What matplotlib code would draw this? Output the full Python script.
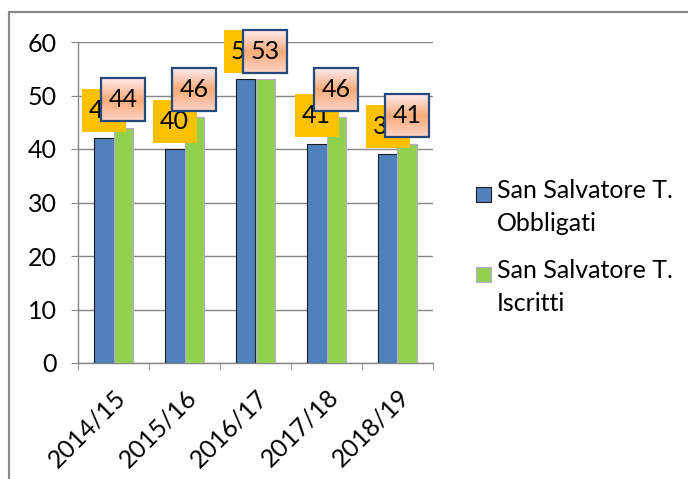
import matplotlib
matplotlib.use("Agg")
import matplotlib.pyplot as plt
import numpy as np
from matplotlib.colors import LinearSegmentedColormap
from matplotlib.patches import Rectangle

plt.rcParams['font.family'] = ['Lato', 'DejaVu Sans']

# Data
years = ["2014/15", "2015/16", "2016/17", "2017/18", "2018/19"]
obbligati = [42, 40, 53, 41, 39]
iscritti = [44, 46, 53, 46, 41]
series_names = ["San Salvatore T.\nObbligati", "San Salvatore T.\nIscritti"]

BLUE = "#4f81bd"
GREEN = "#92d050"
GRID = "#868686"
W, H = 688, 479
BOX_W, BOX_H = 44, 43  # label box size in pixels

fig = plt.figure(figsize=(W / 100, H / 100), dpi=100)
ax = fig.add_axes([78 / W, 1 - 363 / H, (433 - 78) / W, (363 - 42) / H])

x = np.arange(len(years))
bw = 0.28
b1 = ax.bar(x - bw / 2, obbligati, bw, color=BLUE, edgecolor="#1c1c1c", linewidth=0.8, zorder=3)
b2 = ax.bar(x + bw / 2, iscritti, bw, color=GREEN, edgecolor="#b7a9d3", linewidth=0.8, zorder=3)

ax.set_xlim(-0.5, len(years) - 0.5)
ax.set_ylim(0, 60)
ax.set_yticks(range(0, 61, 10))
ax.yaxis.grid(True, color=GRID, linewidth=1.0, zorder=0)
ax.set_axisbelow(True)
for s in ["top", "right"]:
    ax.spines[s].set_visible(False)
for s in ["left", "bottom"]:
    ax.spines[s].set_color(GRID)
    ax.spines[s].set_linewidth(1.0)

ax.tick_params(axis="y", length=5, color=GRID, labelsize=18, pad=10)
ax.set_xticks(x)
ax.set_xticks(np.arange(len(years) + 1) - 0.5, minor=True)
ax.tick_params(axis="x", which="major", length=0, pad=16, labelsize=18)
ax.tick_params(axis="x", which="minor", length=5, color=GRID)
ax.set_xticklabels(years, rotation=45, ha="right", va="top", rotation_mode="anchor")

# data labels (boxes added after a first draw)
blue_texts = []
for rect, v in zip(b1, obbligati):
    t = ax.annotate(str(v), (rect.get_x() + rect.get_width() / 2, v), xytext=(0, 20),
                    textcoords="offset points", ha="center", va="center", fontsize=18, zorder=5)
    blue_texts.append(t)

green_texts = []
for rect, v in zip(b2, iscritti):
    t = ax.annotate(str(v), (rect.get_x() + rect.get_width() / 2, v), xytext=(0, 20),
                    textcoords="offset points", ha="center", va="center", fontsize=18, zorder=8)
    green_texts.append(t)

cmap = LinearSegmentedColormap.from_list("peach", ["#fcd3c8", "#f9ab78", "#fdebf0"])
grad = np.linspace(0, 1, 64).reshape(-1, 1)

fig.canvas.draw()
inv = ax.transData.inverted()


def box_extent(t):
    bb = t.get_window_extent()
    cx, cy = (bb.x0 + bb.x1) / 2, (bb.y0 + bb.y1) / 2
    (x0, y0), (x1, y1) = inv.transform([[cx - BOX_W / 2, cy - BOX_H / 2],
                                         [cx + BOX_W / 2, cy + BOX_H / 2]])
    return x0, x1, y0, y1


for t in blue_texts:
    x0, x1, y0, y1 = box_extent(t)
    ax.add_patch(Rectangle((x0, y0), x1 - x0, y1 - y0, facecolor="#ffc000",
                           edgecolor="none", zorder=4, clip_on=False))

for t in green_texts:
    x0, x1, y0, y1 = box_extent(t)
    ax.imshow(grad, extent=(x0, x1, y0, y1), aspect="auto", cmap=cmap, origin="lower",
              zorder=6, clip_on=False)
    ax.add_patch(Rectangle((x0, y0), x1 - x0, y1 - y0, facecolor="none",
                           edgecolor="#24497a", linewidth=1.6, zorder=7, clip_on=False))

ax.set_xlim(-0.5, len(years) - 0.5)
ax.set_ylim(0, 60)

# legend
for i, (name, col, ec) in enumerate(zip(series_names, [BLUE, GREEN], ["#1c1c1c", "#b7a9d3"])):
    ytop = 187 + i * 80
    fig.add_artist(Rectangle((476 / W, 1 - (ytop + 15) / H), 15 / W, 15 / H,
                             facecolor=col, edgecolor=ec, linewidth=0.8, transform=fig.transFigure))
    fig.text(497 / W, 1 - (ytop - 8) / H, name, fontsize=18, va="top", ha="left", linespacing=1.55)

# outer frame
fig.add_artist(Rectangle((9 / W, -0.1), 1.2, 1.1 - 12 / H, fill=False, edgecolor="#898989",
                         linewidth=1.6, transform=fig.transFigure, clip_on=False))

fig.savefig("out.png", dpi=100)
